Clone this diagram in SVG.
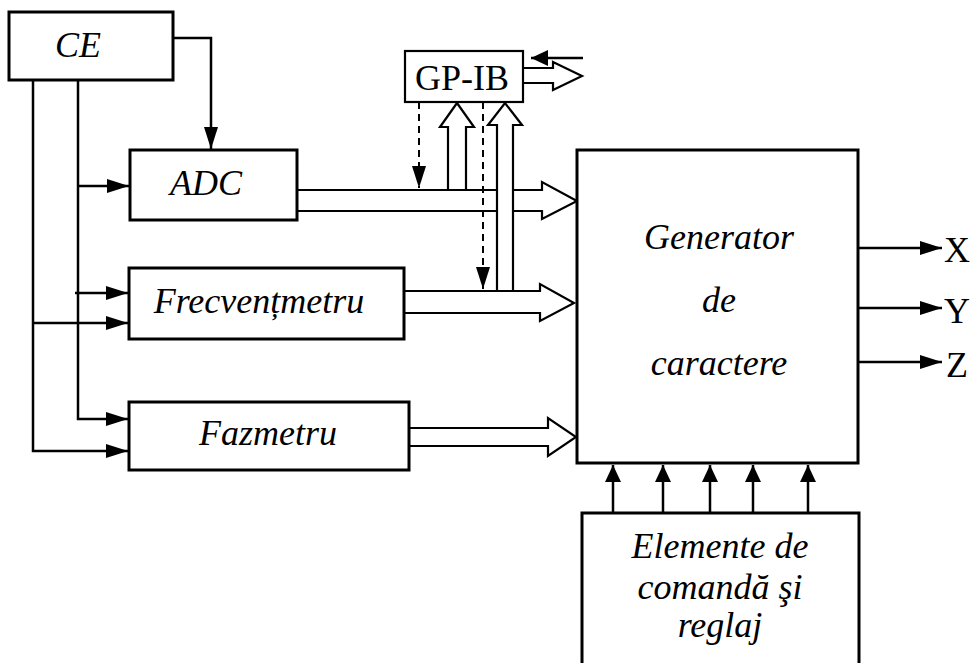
<svg xmlns="http://www.w3.org/2000/svg" width="973" height="663" viewBox="0 0 973 663">
<style>
.box{fill:#fff;stroke:#000;stroke-width:3}
.ln{fill:none;stroke:#000;stroke-width:2.5}
.dash{fill:none;stroke:#000;stroke-width:2;stroke-dasharray:7 5}
.bus{fill:#fff;stroke:#000;stroke-width:2.2;stroke-linejoin:miter}
.ti{font-family:"Liberation Serif","Times New Roman",serif;font-style:italic;font-size:36px;fill:#000;text-anchor:middle}
.tu{font-family:"Liberation Serif","Times New Roman",serif;font-size:36px;fill:#000;text-anchor:middle}
</style>
<defs>
<marker id="ah" markerUnits="userSpaceOnUse" markerWidth="24" markerHeight="16" refX="22" refY="7" orient="auto" viewBox="0 0 24 16">
<path d="M0,0 L22,7 L0,14 z" fill="#000"/>
</marker>
<marker id="ahs" markerUnits="userSpaceOnUse" markerWidth="18" markerHeight="18" refX="17" refY="8" orient="auto" viewBox="0 0 18 18">
<path d="M0,0 L17,8 L0,16 z" fill="#000"/>
</marker>
</defs>
<rect width="973" height="663" fill="#fff"/>

<g id="connectors">
<path class="ln" d="M173,38 H211 V149" marker-end="url(#ah)"/>
<path class="ln" d="M33,80 V451 H128" marker-end="url(#ah)"/>
<path class="ln" d="M78,80 V419 H128" marker-end="url(#ah)"/>
<path class="ln" d="M78,186 H129" marker-end="url(#ah)"/>
<path class="ln" d="M75,293 H128" marker-end="url(#ah)"/>
<path class="ln" d="M33,323 H128" marker-end="url(#ah)"/>
<path class="bus" d="M448,190 V127 H440 L457,103 L474,127 H466 V190"/>
<path class="bus" d="M297,190 H542 V182 L577,201 L542,219 V211 H297"/>
<path class="dash" d="M419,102 V188" marker-end="url(#ah)"/>
<path class="bus" d="M497,291 V125 H488 L505,103 L522,125 H513 V291"/>
<path class="dash" d="M483,102 V289" marker-end="url(#ah)"/>
<path class="bus" d="M404,291 H540 V284 L574,303 L540,321 V313 H404"/>
<path class="bus" d="M409,428 H548 V418 L576,437 L548,456 V446 H409"/>
<path class="bus" d="M523,68 H553 V62 L582,76 L553,90 V83 H523"/>
<path class="ln" d="M583,58 H531" marker-end="url(#ahs)"/>
<path class="ln" d="M858,248 H942" marker-end="url(#ah)"/>
<path class="ln" d="M858,308 H942" marker-end="url(#ah)"/>
<path class="ln" d="M858,362 H942" marker-end="url(#ah)"/>
<path class="ln" d="M613,513 V465" marker-end="url(#ahs)"/>
<path class="ln" d="M663,513 V465" marker-end="url(#ahs)"/>
<path class="ln" d="M710,513 V465" marker-end="url(#ahs)"/>
<path class="ln" d="M753,513 V465" marker-end="url(#ahs)"/>
<path class="ln" d="M808,513 V465" marker-end="url(#ahs)"/>
</g>

<g id="CE">
<rect class="box" x="9" y="12" width="164" height="68"/>
<text class="ti" x="78" y="57">CE</text>
</g>
<g id="ADC">
<rect class="box" x="130" y="150" width="167" height="70"/>
<text class="ti" x="206" y="195">ADC</text>
</g>
<g id="Frecventmetru">
<rect class="box" x="129" y="268" width="275" height="71"/>
<text class="ti" x="259" y="313">Frecvențmetru</text>
</g>
<g id="Fazmetru">
<rect class="box" x="129" y="402" width="280" height="68"/>
<text class="ti" x="268" y="445">Fazmetru</text>
</g>
<g id="GPIB">
<rect class="box" x="405" y="51" width="118" height="51" style="stroke-width:2.2"/>
<text class="tu" x="462" y="90">GP-IB</text>
</g>
<g id="Generator">
<rect class="box" x="577" y="150" width="281" height="313"/>
<text class="ti" x="719" y="249">Generator</text>
<text class="ti" x="719" y="312">de</text>
<text class="ti" x="719" y="375">caractere</text>
</g>
<g id="Elemente">
<path class="box" d="M582,670 V513 H859 V670"/>
<text class="ti" x="720" y="558">Elemente de</text>
<text class="ti" x="720" y="599">comandă şi</text>
<text class="ti" x="720" y="637">reglaj</text>
</g>
<g id="labels">
<text class="tu" x="957" y="262">X</text>
<text class="tu" x="957" y="323">Y</text>
<text class="tu" x="957" y="377">Z</text>
</g>
</svg>
